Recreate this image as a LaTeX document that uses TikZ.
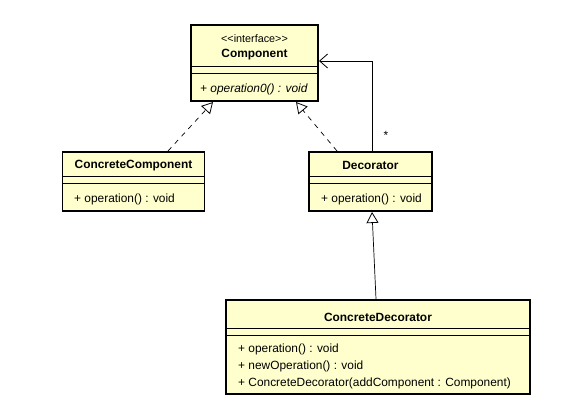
\documentclass[tikz,border=0pt]{standalone}
\usepackage{fontspec}
\setmainfont{Liberation Sans}
\usetikzlibrary{arrows.meta}
\definecolor{umlfill}{RGB}{255,255,206}
\begin{document}
\begin{tikzpicture}[x=1pt,y=-1pt,
  font=\fontsize{11.9}{13}\selectfont,
  classbox/.style={draw=black,line width=1.8pt,fill=umlfill,rectangle,inner sep=0pt},
  divider/.style={line width=0.9pt},
  lbl/.style={inner sep=0pt,anchor=center,yshift=-1.5pt},
  op/.style={inner sep=0pt,anchor=west,yshift=-1.5pt},
  realize/.style={line width=0.7pt,dash pattern=on 5pt off 5pt,-{Triangle[open,length=11pt,width=12pt,line width=0.8pt]}},
  inherit/.style={line width=0.7pt,-{Triangle[open,length=11pt,width=12pt,line width=0.8pt]}},
  assoc/.style={line width=0.7pt,-{Straight Barb[length=8pt,width=14pt,line width=0.8pt]}}]
\useasboundingbox (0,0) rectangle (564,414);
% Component
\node[classbox,minimum width=127pt,minimum height=76pt] (comp) at (254.5,63) {};
\draw[divider] (191,66) -- (318,66) (191,73) -- (318,73);
\node[lbl] (compst) at (254.5,37) {\fontsize{10.8}{12}\selectfont <{}<interface>{}>};
\node[lbl] (compname) at (254.5,53) {\bfseries Component};
\node[op] (compop) at (200,88) {\itshape + operation0() : void};
% ConcreteComponent
\node[classbox,minimum width=142pt,minimum height=59pt] (cc) at (133.5,181.5) {};
\draw[divider] (62.5,176) -- (204.5,176) (62.5,183) -- (204.5,183);
\node[lbl] (ccname) at (133.5,164) {\bfseries ConcreteComponent};
\node[op] (ccop) at (74,198) {+ operation() : void};
% Decorator
\node[classbox,minimum width=123pt,minimum height=59pt] (dec) at (370.5,181.5) {};
\draw[divider] (309,176) -- (432,176) (309,183) -- (432,183);
\node[lbl] (decname) at (370.5,164) {\bfseries Decorator};
\node[op] (decop) at (321,198) {+ operation() : void};
% ConcreteDecorator
\node[classbox,minimum width=304pt,minimum height=94pt] (cd) at (378,347) {};
\draw[divider] (226,328) -- (530,328) (226,335) -- (530,335);
\node[lbl] (cdname) at (378,316) {\bfseries ConcreteDecorator};
\node[op] (cdop1) at (238,348) {+ operation() : void};
\node[op] (cdop2) at (238,365) {+ newOperation() : void};
\node[op] (cdop3) at (238,382) {+ ConcreteDecorator(addComponent : Component)};
% connector points
\coordinate (ccTop) at (168,151);
\coordinate (compBL) at (213,102);
\coordinate (decTopL) at (337,151);
\coordinate (compBR) at (296,102);
\coordinate (decTopR) at (372,151);
\coordinate (corner) at (372,61);
\coordinate (compR) at (319,61);
\coordinate (cdTop) at (376,299);
\coordinate (decBot) at (372,212);
\draw[realize] (ccTop) -- (compBL);
\draw[realize] (decTopL) -- (compBR);
\draw[assoc] (decTopR) -- (corner) -- (compR);
\node[lbl] (mult) at (386,134) {*};
\draw[inherit] (cdTop) -- (decBot);
\end{tikzpicture}
\end{document}
